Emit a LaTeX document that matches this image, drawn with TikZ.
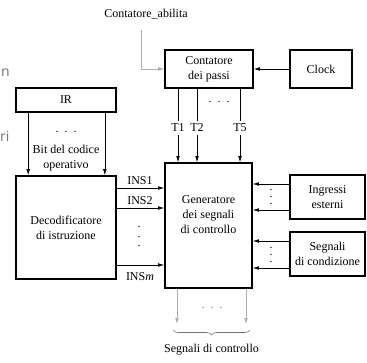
\documentclass[tikz,border=0pt]{standalone}
\usepackage{fontspec}
\setmainfont{Liberation Serif}
\newfontfamily\straysans{Open Sans}
\usetikzlibrary{arrows.meta,decorations.pathreplacing}
\begin{document}
\begin{tikzpicture}[x=1pt,y=-1pt,
  font=\fontsize{12}{15}\selectfont,
  box/.style={draw, line width=1.6pt, inner sep=0pt, align=center},
  conn/.style={line width=0.6pt, -{Latex[length=6pt,width=3.6pt]}},
  gconn/.style={conn, color=gray!65},
  lbl/.style={inner sep=3pt},
  hdots/.style={inner sep=0pt, anchor=base},
  vdot/.style={inner sep=0pt, rotate=90},
  stray/.style={text=gray!110!white, font=\straysans\fontsize{14}{16}\selectfont, inner sep=0pt}]
\useasboundingbox (0,0) rectangle (367,362);

% stray fragments at the left edge
\node[stray, anchor=base west] (s1) at (1,76) {n};
\node[stray, anchor=base west] (s2) at (0,141) {ri};

% boxes
\node[box, minimum width=88pt, minimum height=38pt] (cont) at (209,69) {Contatore\\dei passi};
\node[box, minimum width=62pt, minimum height=38pt] (clock) at (321,69) {Clock};
\node[box, minimum width=100pt, minimum height=24pt] (ir) at (66,100) {IR};
\node[box, minimum width=100pt, minimum height=103pt] (dec) at (66,227.5) {Decodificatore\\di istruzione};
\node[box, minimum width=87pt, minimum height=125pt] (gen) at (208.5,225.5) {Generatore\\dei segnali\\di controllo\\[6pt]};
\node[box, minimum width=75pt, minimum height=44pt] (ing) at (327.5,197) {Ingressi\\esterni};
\node[box, minimum width=75pt, minimum height=44pt] (cond) at (327.5,254) {Segnali\\di condizione};

% Contatore_abilita
\node[inner sep=2pt] (ca) at (146,14) {Contatore\_abilita};
\draw[gconn, shorten <=9pt] ([xshift=-4.5pt]ca.south) |- (cont.west);

% clock
\draw[conn] (clock.west) -- (cont.east);

% IR to decoder
\draw[conn] ([xshift=13pt]ir.south west) -- ([xshift=13pt]dec.north west);
\draw[conn] ([xshift=-12pt]ir.south east) -- ([xshift=-12pt]dec.north east);
\node[hdots] (irdots) at (66,132) {.\,\,\,.\,\,\,.};
\node[align=center, inner sep=0pt] (bit) at (66,158.5) {Bit del codice\\operativo};

% T lines
\node[lbl] (t1) at (178,128) {T1};
\node[lbl] (t2) at (197,128) {T2};
\node[lbl] (t5) at (240,128) {T5};
\draw[line width=0.6pt] (cont.south -| t1) -- (t1);
\draw[line width=0.6pt] (cont.south -| t2) -- (t2);
\draw[line width=0.6pt] (cont.south -| t5) -- (t5);
\draw[conn] (t1) -- (gen.north -| t1);
\draw[conn] (t2) -- (gen.north -| t2);
\draw[conn] (t5) -- (gen.north -| t5);
\node[hdots] (tdots) at (219,102) {.\,\,\,.\,\,\,.};

% INS lines
\coordinate (yi1) at (0,188);
\coordinate (yi2) at (0,208);
\coordinate (yim) at (0,265);
\draw[conn] (dec.east |- yi1) -- (gen.west |- yi1);
\draw[conn] (dec.east |- yi2) -- (gen.west |- yi2);
\draw[conn] (dec.east |- yim) -- (gen.west |- yim);
\node[inner sep=0pt] (ins1) at (140,180.5) {INS1};
\node[inner sep=0pt] (ins2) at (140,200.5) {INS2};
\node[inner sep=0pt] (insm) at (140,277) {INS\textit{m}};
\node[vdot] (insdots) at (139,236.5) {.\hspace{6.5pt}.\hspace{6.5pt}.};

% external inputs
\coordinate (ye1) at (0,184);
\coordinate (ye2) at (0,210);
\coordinate (yc1) at (0,241);
\coordinate (yc2) at (0,268);
\draw[conn] (ing.west |- ye1) -- (gen.east |- ye1);
\draw[conn] (ing.west |- ye2) -- (gen.east |- ye2);
\draw[conn] (cond.west |- yc1) -- (gen.east |- yc1);
\draw[conn] (cond.west |- yc2) -- (gen.east |- yc2);
\node[vdot] (edots) at (271,197) {.\hspace{4pt}.\hspace{4pt}.};
\node[vdot] (cdots) at (271,255) {.\hspace{4pt}.\hspace{4pt}.};

% outputs
\coordinate (o1) at (177,324);
\coordinate (o2) at (246,324);
\draw[gconn] (gen.south -| o1) -- (o1);
\draw[gconn] (gen.south -| o2) -- (o2);
\node[hdots, text=gray] (odots) at (212,308) {.\,\,\,.\,\,\,.};
\draw[line width=0.6pt, draw=gray!90!black, decorate, decoration={brace, mirror, amplitude=5pt}]
  ([xshift=-4pt,yshift=-6pt]o1) -- ([xshift=4pt,yshift=-6pt]o2);
\node[inner sep=0pt] (sc) at (211.5,350) {Segnali di controllo};
\end{tikzpicture}
\end{document}
